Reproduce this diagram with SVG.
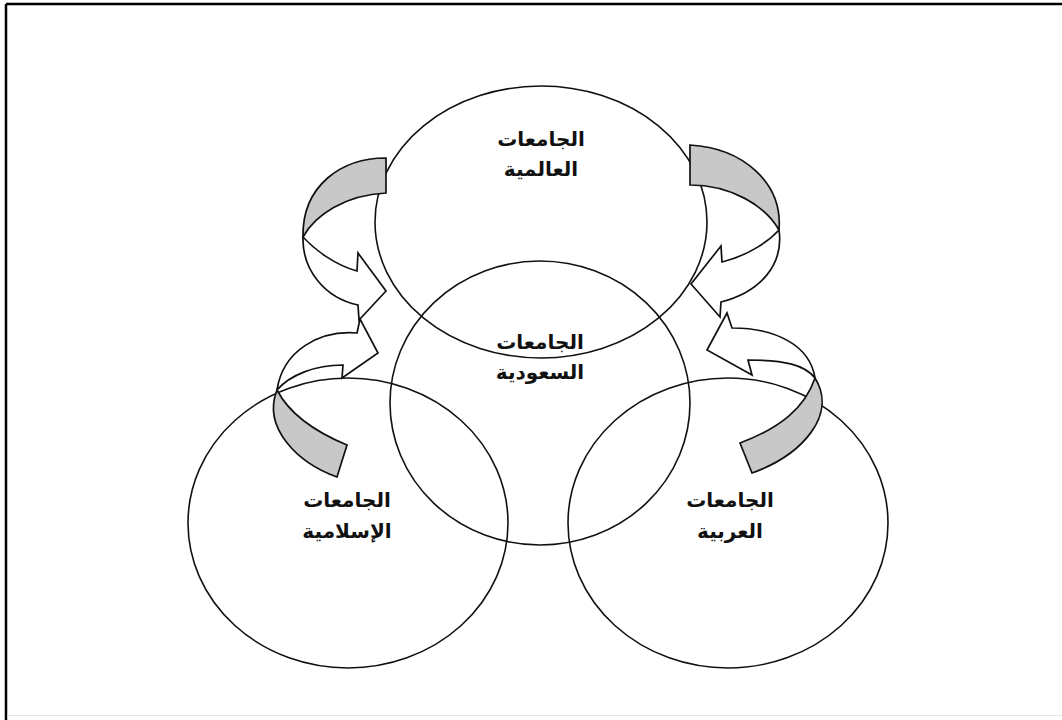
<svg xmlns="http://www.w3.org/2000/svg" width="1062" height="720" viewBox="0 0 1062 720">
<style>
.c{fill:none;stroke:#111;stroke-width:1.6}
.g{fill:#c8c8c8;stroke:#111;stroke-width:1.7;stroke-linejoin:miter}
.w{fill:#fff;stroke:#111;stroke-width:1.7;stroke-linejoin:miter}
.t{font-family:"DejaVu Sans",sans-serif;font-weight:bold;font-size:20px;fill:#111;text-anchor:middle}
</style>
<rect width="1062" height="720" fill="#fff"/>
<g id="frame">
<line x1="6" y1="4" x2="1062" y2="4" stroke="#000" stroke-width="2.5"/>
<line x1="6" y1="4" x2="6" y2="720" stroke="#000" stroke-width="2.5"/>
<line x1="7" y1="715.5" x2="1062" y2="715.5" stroke="#e4e4e4" stroke-width="1"/>
</g>
<g id="node-global"><ellipse class="c" cx="541" cy="222" rx="166" ry="136"/></g>
<g id="node-saudi"><ellipse class="c" cx="540" cy="403" rx="150" ry="142"/></g>
<g id="node-islamic"><ellipse class="c" cx="348" cy="523" rx="160" ry="145"/></g>
<g id="node-arab"><ellipse class="c" cx="728" cy="523" rx="160" ry="145"/></g>
<g id="connectors">
<path class="g" d="M386,158 C342,158 302,185 303,237 C315,215 345,195 386,193 Z"/>
<path class="w" d="M303,237 C302,270 325,298 358,305 L359,320 L386,291 L358,253 L357,271 C335,265 315,250 303,237 Z"/>
<path class="g" d="M337,477 C298,463 262,428 277,390 C290,415 318,433 347,445 Z"/>
<path class="w" d="M277,390 C283,350 320,330 357,333 L360,319 L378,353 L342,378 L343,365 C315,365 290,375 277,390 Z"/>
<path class="g" d="M690,145 C742,148 783,182 779,230 C765,205 730,185 690,185 Z"/>
<path class="w" d="M779,230 C784,265 760,292 721,302 L720,317 L691,284 L721,246 L722,262 C750,255 770,240 779,230 Z"/>
<path class="g" d="M752,473 C802,455 838,415 815,378 C805,408 780,428 740,443 Z"/>
<path class="w" d="M815,378 C810,345 775,328 732,328 L727,313 L707,350 L752,375 L748,360 C785,360 805,365 815,378 Z"/>
</g>
<g id="labels">
<text class="t" x="541" y="146" direction="rtl">الجامعات</text>
<text class="t" x="541" y="176" direction="rtl">العالمية</text>
<text class="t" x="540" y="349" direction="rtl">الجامعات</text>
<text class="t" x="540" y="379" direction="rtl">السعودية</text>
<text class="t" x="347" y="507" direction="rtl">الجامعات</text>
<text class="t" x="347" y="538" direction="rtl">الإسلامية</text>
<text class="t" x="730" y="507" direction="rtl">الجامعات</text>
<text class="t" x="730" y="538" direction="rtl">العربية</text>
</g>
</svg>
